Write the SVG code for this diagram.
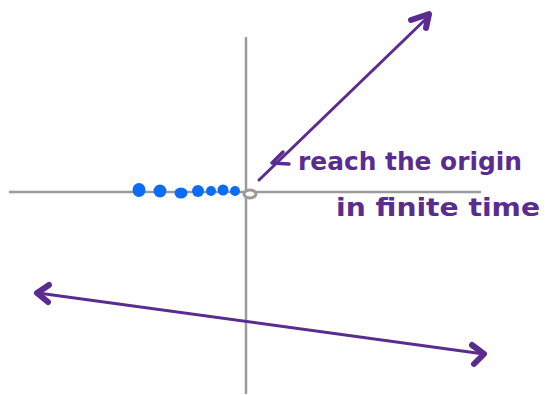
<svg xmlns="http://www.w3.org/2000/svg" width="545" height="395" viewBox="0 0 545 395">
<style>
.axis{stroke:#9a9a9a;stroke-width:2.5;fill:none;stroke-linecap:round}
.pl{stroke:#5b2c90;stroke-width:3;fill:none;stroke-linecap:round;stroke-linejoin:round}
.ah{stroke:#5b2c90;stroke-width:6;fill:none;stroke-linecap:round;stroke-linejoin:round}
.dot{fill:#0a6cf7}
.hw{font-family:"Comic Sans MS","DejaVu Sans",sans-serif;font-weight:bold;fill:#5b2c90;font-size:24px}
</style>
<rect width="545" height="395" fill="#fff"/>
<g id="axes">
<line class="axis" x1="10" y1="192" x2="480" y2="192"/>
<line class="axis" x1="246" y1="38" x2="246" y2="393"/>
<ellipse cx="250" cy="194" rx="6" ry="4" fill="#fff" stroke="#9a9a9a" stroke-width="3"/>
</g>
<g id="dots">
<ellipse class="dot" cx="139" cy="190" rx="6.5" ry="7"/>
<ellipse class="dot" cx="160" cy="191" rx="6.5" ry="6.5"/>
<ellipse class="dot" cx="181" cy="193" rx="6.5" ry="5.5"/>
<ellipse class="dot" cx="198" cy="191" rx="6" ry="6"/>
<ellipse class="dot" cx="211" cy="191" rx="5" ry="5"/>
<ellipse class="dot" cx="223" cy="190" rx="5.5" ry="5.5"/>
<ellipse class="dot" cx="235" cy="191" rx="5" ry="5"/>
</g>
<g id="connectors">
<line class="pl" x1="259" y1="180" x2="430" y2="15"/>
<path class="ah" d="M411,20 L429,14 L426,28"/>
<path class="pl" d="M283,152 L272,163 L289,164" style="stroke-width:3.5"/>
<line class="pl" x1="38" y1="293" x2="484" y2="354"/>
<path class="ah" d="M49,285 L37,293 L48,302"/>
<path class="ah" d="M472,345 L484,354 L474,364"/>
</g>
<g id="label">
<text class="hw" x="298" y="170" textLength="224" lengthAdjust="spacingAndGlyphs">reach the origin</text>
<text class="hw" x="336" y="216" textLength="204" lengthAdjust="spacingAndGlyphs">in finite time</text>
</g>
</svg>
